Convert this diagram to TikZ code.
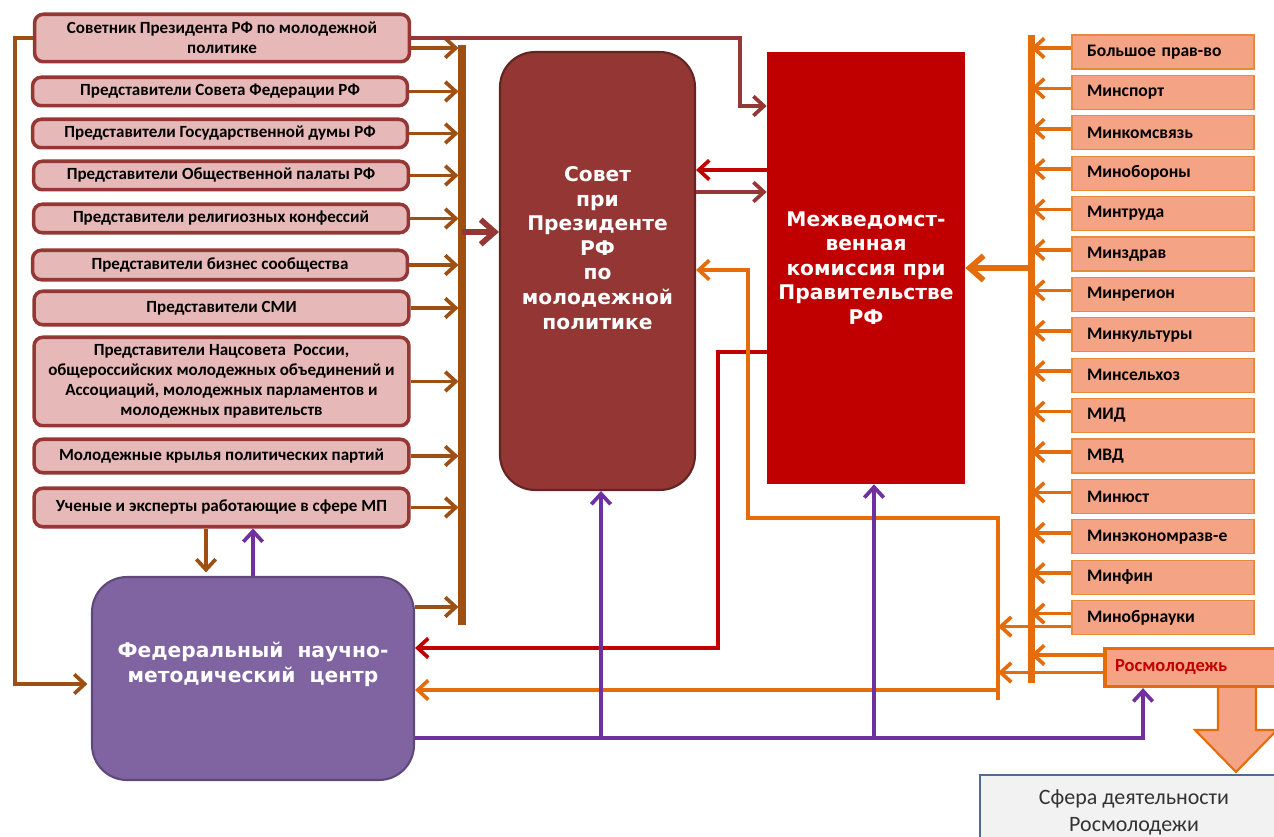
\documentclass[tikz,border=0pt]{standalone}
\usepackage{fontspec}
\setmainfont{Carlito}
\newfontfamily\vfont{DejaVu Sans}
\usetikzlibrary{arrows.meta,calc}

\definecolor{pinkfill}{HTML}{E6B9B8}
\definecolor{pinkedge}{HTML}{953735}
\definecolor{brn}{HTML}{9E5014}
\definecolor{maroon}{HTML}{953735}
\definecolor{sovfill}{HTML}{943634}
\definecolor{sovedge}{HTML}{632523}
\definecolor{redc}{HTML}{C00000}
\definecolor{orng}{HTML}{E46C0A}
\definecolor{salmon}{HTML}{F4A384}
\definecolor{purpfill}{HTML}{8064A2}
\definecolor{purpedge}{HTML}{5F497A}
\definecolor{purpline}{HTML}{7030A0}
\definecolor{greyfill}{HTML}{F2F2F2}
\definecolor{blueedge}{HTML}{4F6B93}

\tikzset{
  grp/.style={draw=pinkedge, fill=pinkfill, line width=2pt, rounded corners=5pt,
    minimum width=7.5cm, inner sep=1pt, align=center,
    font=\bfseries\fontsize{9.7}{11.5}\selectfont},
  mst/.style={draw=orng!80, fill=salmon, line width=0.7pt, minimum width=3.64cm,
    minimum height=0.68cm, text width=3.04cm, inner xsep=0.3cm, align=left,
    font=\bfseries\fontsize{10}{12}\selectfont},
  bigtxt/.style={text=white, align=center, font=\vfont\bfseries\fontsize{11.5}{14}\selectfont},
  bar/.style={line width=4pt},
  barr/.style={draw=brn, line width=2.1pt, ->, shorten >=2pt},
  marr/.style={draw=maroon, line width=2.1pt, ->},
  rarr/.style={draw=redc, line width=2.1pt, ->},
  oarr/.style={draw=orng, line width=2.1pt, ->},
  parr/.style={draw=purpline, line width=2.1pt, ->},
  thickarr/.style={line width=3.2pt, -{Straight Barb[length=8pt,width=14pt]}},
}

\begin{document}
\begin{tikzpicture}[x=0.02cm, y=-0.02cm, >={Straight Barb[length=6pt,width=11pt]}]
\clip (0,0) rectangle (1274,837);

% left column
\node[grp, minimum height=0.95cm] (adv) at (222,38) {Советник Президента РФ по молодежной\\политике};
\node[grp, minimum height=0.57cm] (sfr) at (220,91.5) {Представители Совета Федерации РФ};
\node[grp, minimum height=0.57cm] (gd) at (220,133.5) {Представители Государственной думы РФ};
\node[grp, minimum height=0.57cm] (op) at (221,175.5) {Представители Общественной палаты РФ};
\node[grp, minimum height=0.57cm] (rk) at (221,218.5) {Представители религиозных конфессий};
\node[grp, minimum height=0.59cm] (bs) at (220,265) {Представители бизнес сообщества};
\node[grp, minimum height=0.67cm] (smi) at (221.5,308) {Представители СМИ};
\node[grp, minimum height=1.77cm] (ns) at (221.5,381.5) {Представители Нацсовета~ России,\\общероссийских молодежных объединений и\\Ассоциаций, молодежных парламентов и\\молодежных правительств};
\node[grp, minimum height=0.67cm] (mk) at (221.5,456) {Молодежные крылья политических партий};
\node[grp, minimum height=0.77cm] (uch) at (221.5,507.5) {Ученые и эксперты работающие в сфере МП};

% centre
\node[draw=sovedge, fill=sovfill, line width=1.2pt, rounded corners=0.7cm,
  minimum width=3.9cm, minimum height=8.76cm] (sovet) at (597.5,271) {};
\node[bigtxt] at ($(sovet.center)+(0,-23)$) {Совет\\при\\Президенте\\РФ\\по\\молодежной\\политике};
\node[fill=redc, minimum width=3.96cm, minimum height=8.64cm, bigtxt] (mvk) at (866,268)
  {Межведомст-\\венная\\комиссия при\\Правительстве\\РФ};
\node[draw=purpedge, fill=purpfill, line width=1.2pt, rounded corners=0.7cm,
  minimum width=6.44cm, minimum height=4.06cm] (fnmc) at (253,678.5) {};
\node[bigtxt] at ($(fnmc.center)+(0,-14)$) {Федеральный\ \ научно-\\методический\ \ центр};

% left bar
\coordinate (lbar) at (462,45);
\coordinate (lbarb) at (462,625);
\draw[bar, brn] (lbar) -- (lbarb);
\foreach \b in {sfr,gd,op,rk,bs,smi,ns,mk,uch}
  \draw[barr] (\b.east) -- (\b.east -| lbar);
\coordinate (adv2) at ($(adv.east)+(0,10)$);
\draw[barr] (adv2) -- (adv2 -| lbar);
\coordinate (f1) at ($(fnmc.north east)+(0,31)$);
\draw[barr] (f1) -- (f1 -| lbar);
\coordinate (l1) at (462,232);
\draw[thickarr, maroon] (l1) -- (l1 -| sovet.west);

% links
\draw[marr] (adv.east) -- (740,38) |- (mvk.west |- 0,106);
\draw[barr] (adv.west) -- ++(-18,0) |- (fnmc.west |- 0,684);
\draw[barr] (uch.south -| 206,0) -- (fnmc.north -| 206,0);
\draw[parr] (fnmc.north -| 253,0) -- (uch.south -| 253,0);
\draw[rarr] (mvk.west |- 0,170) -- (sovet.east |- 0,170);
\draw[marr] (sovet.east |- 0,192) -- (mvk.west |- 0,192);
\draw[rarr] (mvk.west |- 0,352) -| (718,648) -- (fnmc.east |- 0,648);

% right column
\coordinate (rbar) at (1031,35);
\coordinate (rbarb) at (1031,683);
\draw[bar, orng] (rbar) -- (rbarb);
\foreach \t [count=\i] in {Большое прав-во,Минспорт,Минкомсвязь,Минобороны,Минтруда,Минздрав,Минрегион,Минкультуры,Минсельхоз,МИД,МВД,Минюст,Минэкономразв-е,Минфин,Минобрнауки}{
  \node[mst] (m\i) at (1163,{52+40.4*(\i-1)}) {\t};
  \coordinate (a\i) at ([yshift=0.08cm]m\i.west);
  \draw[oarr] (a\i) -- (a\i -| rbar);
}
\draw[thickarr, orng] (mvk.east -| rbar) -- (mvk.east);

% Rosmolodezh
\draw[draw=orng, fill=salmon, line width=1.2pt]
  (1218,687) -- (1218,730) -- (1195,730) -- (1236,772) -- (1277,730) -- (1256,730) -- (1256,687);
\node[draw=orng, fill=salmon, line width=1.9pt, minimum width=3.7cm, minimum height=0.76cm,
  text width=3.3cm, inner xsep=0.2cm, align=left, text=redc,
  font=\bfseries\fontsize{10.5}{12}\selectfont] (rosm) at (1197.5,667.5) {Росмолодежь};
\node[draw=blueedge, fill=greyfill, line width=1.5pt, minimum width=6.16cm, minimum height=1.5cm,
  align=center, text=black!80, font=\fontsize{12.5}{15}\selectfont] (sfera) at (1134,812.5)
  {Сфера деятельности\\Росмолодежи};

\coordinate (ojoin) at (998,518);
\coordinate (mo) at ([yshift=-0.18cm]m15.west);
\draw[oarr] (mo) -- (mo -| ojoin);
\coordinate (ra) at ([yshift=0.25cm]rosm.west);
\coordinate (rb) at ([yshift=-0.1cm]rosm.west);
\draw[oarr] (ra) -- (ra -| rbar);
\draw[oarr] (rb) -- (rb -| ojoin);
\draw[oarr] (998,700) -- (ojoin) -| (748,270) -- (sovet.east |- 0,270);
\draw[oarr] (ojoin |- 0,690) -- (fnmc.east |- 0,690);

% purple lines
\draw[parr] (fnmc.east |- 0,738) -| (rosm.south -| 1143,0);
\draw[parr] (601,738) -- (sovet.south -| 601,0);
\draw[parr] (874,738) -- (mvk.south -| 874,0);
\end{tikzpicture}
\end{document}
